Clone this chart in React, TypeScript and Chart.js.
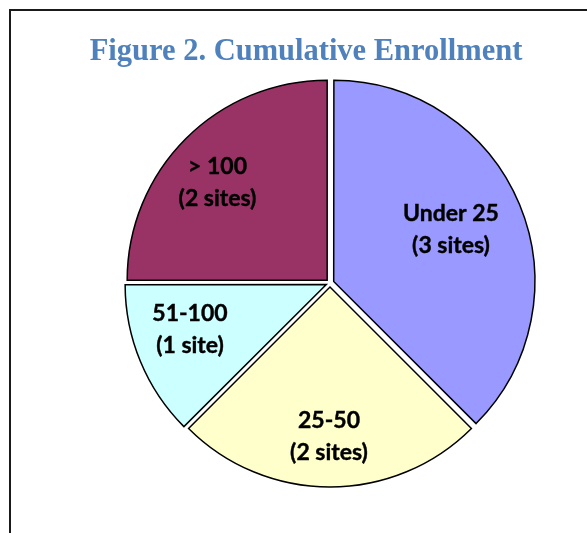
import { useEffect, useRef } from 'react';
import { Chart, registerables } from 'chart.js';

Chart.register(...registerables);

const titleText = 'Figure 2. Cumulative Enrollment';
const categories = ['Under 25', '25-50', '51-100', '> 100'];
const siteCounts = [3, 2, 1, 2];
const siteLabels = ['(3 sites)', '(2 sites)', '(1 site)', '(2 sites)'];
const sliceColors = ['#9999FF', '#FFFFCC', '#CCFFFF', '#993366'];
// label anchor relative to pie centre, in units of the pie radius
const labelAnchorX = [0.605, -0.005, -0.7, -0.5625];
const labelAnchorY = [-0.2675, 0.77, 0.235, -0.5];

const W = 587;
const H = 533;

const framePlugin = {
  id: 'frameAndTitle',
  beforeDraw(chart: any) {
    const ctx = chart.ctx;
    ctx.save();
    ctx.fillStyle = '#ffffff';
    ctx.fillRect(0, 0, chart.width, chart.height);
    ctx.strokeStyle = '#1a1a1a';
    ctx.lineWidth = 2;
    ctx.beginPath();
    ctx.moveTo(10, chart.height + 10);
    ctx.lineTo(10, 10);
    ctx.lineTo(chart.width + 10, 10);
    ctx.stroke();
    ctx.fillStyle = '#4F81BD';
    ctx.font = 'bold 30.5px "Liberation Serif", "Times New Roman", serif';
    ctx.textAlign = 'center';
    ctx.textBaseline = 'alphabetic';
    ctx.fillText(titleText, 306, 60);
    ctx.restore();
  },
};

const labelPlugin = {
  id: 'sliceLabels',
  afterDatasetsDraw(chart: any) {
    const ctx = chart.ctx;
    const meta = chart.getDatasetMeta(0);
    ctx.save();
    ctx.fillStyle = '#000000';
    ctx.strokeStyle = '#000000';
    ctx.lineWidth = 0.4;
    ctx.font = 'bold 23px Lato, "Open Sans", sans-serif';
    ctx.textAlign = 'center';
    ctx.textBaseline = 'middle';
    meta.data.forEach((arc: any, i: number) => {
      const p = arc.getProps(['x', 'y', 'outerRadius'], true);
      const cx = p.x + labelAnchorX[i] * p.outerRadius;
      const cy = p.y + labelAnchorY[i] * p.outerRadius;
      const lines = [categories[i], siteLabels[i]];
      lines.forEach((t, j) => {
        const y = cy + (j === 0 ? -16 : 16);
        ctx.fillText(t, cx, y);
        ctx.strokeText(t, cx, y);
      });
    });
    ctx.restore();
  },
};

export default function App() {
  const canvasRef = useRef<HTMLCanvasElement | null>(null);

  useEffect(() => {
    if (!canvasRef.current) return;
    const chart = new Chart(canvasRef.current, {
      type: 'pie',
      data: {
        labels: categories,
        datasets: [
          {
            data: siteCounts,
            backgroundColor: sliceColors,
            borderColor: '#000000',
            borderWidth: 1.5,
            borderJoinStyle: 'miter',
            offset: 16,
            hoverOffset: 16,
          },
        ],
      },
      options: {
        responsive: false,
        animation: false,
        radius: 200,
        layout: { padding: { left: 100, right: 27, top: 60, bottom: 27 } },
        plugins: {
          legend: { display: false },
          tooltip: { enabled: false },
          title: { display: false },
        },
        events: [],
      } as any,
      plugins: [framePlugin, labelPlugin],
    });
    return () => chart.destroy();
  }, []);

  return (
    <div style={{ position: 'absolute', left: 0, top: 0, width: W, height: H, overflow: 'hidden' }}>
      <canvas ref={canvasRef} width={W} height={H} style={{ display: 'block' }} />
    </div>
  );
}
